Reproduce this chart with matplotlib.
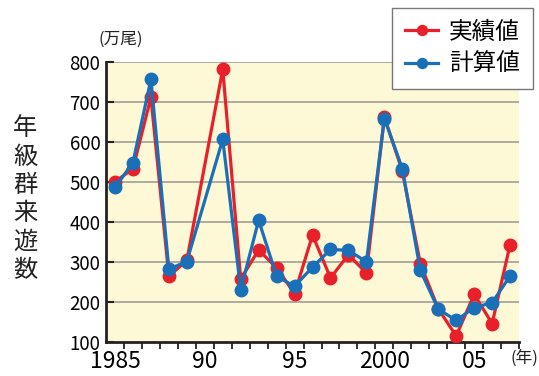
import numpy as np
import matplotlib.pyplot as plt
from matplotlib.ticker import MultipleLocator, FixedLocator

plt.rcParams['font.family'] = ['Noto Sans CJK JP', 'DejaVu Sans']

# 1990 has no value
years = [1985, 1986, 1987, 1988, 1989, 1991, 1992, 1993, 1994, 1995, 1996,
         1997, 1998, 1999, 2000, 2001, 2002, 2003, 2004, 2005, 2006, 2007]
actual = [500, 533, 711, 264, 304, 781, 257, 330, 285, 221, 367,
          260, 318, 272, 662, 527, 296, 183, 115, 219, 146, 343]
calc = [486, 548, 756, 282, 301, 606, 231, 404, 264, 239, 287,
        331, 329, 300, 658, 533, 279, 182, 154, 186, 198, 265]
xlabels = ['1985', '90', '95', '2000', '05']

red = '#e8202a'
blue = '#1a70b8'

fig = plt.figure(figsize=(5.39, 3.76), dpi=100)
ax = fig.add_axes([0.1967, 0.0904, 0.7663, 0.7456])
ax.set_facecolor('#fdf8d5')

ax.set_xlim(1984.5, 2007.5)
ax.set_ylim(100, 800)

for v in range(200, 900, 100):
    ax.axhline(v, color='#a8a49a', lw=1.3, zorder=1)

ax.plot(years, actual, color=red, lw=2.3, marker='o', ms=9, label='実績値', zorder=3)
ax.plot(years, calc, color=blue, lw=2.3, marker='o', ms=9, label='計算値', zorder=4)

ax.yaxis.set_major_locator(MultipleLocator(100))
ax.tick_params(axis='y', direction='in', length=6, width=1.5, labelsize=13.5, pad=4,
               color='#222222')
ax.set_xticks([1985, 1990, 1995, 2000, 2005])
ax.set_xticklabels(xlabels)
ax.xaxis.set_minor_locator(FixedLocator(np.arange(1985.5, 2008, 1.0)))
ax.tick_params(axis='x', which='major', length=0, labelsize=16.5, pad=6)
ax.tick_params(axis='x', which='minor', direction='out', length=5, width=1.3,
               color='#222222')

for s in ['top', 'right']:
    ax.spines[s].set_visible(False)
for s in ['left', 'bottom']:
    ax.spines[s].set_linewidth(2)
    ax.spines[s].set_color('#222222')

fig.text(0.047, 0.47, '年\n級\n群\n来\n遊\n数', fontsize=17.5, ha='center', va='center',
         linespacing=1.12, color='#222222')
fig.text(0.183, 0.872, '(万尾)', fontsize=12, ha='left', va='bottom', color='#222222')
fig.text(0.948, 0.048, '(年)', fontsize=12, ha='left', va='center', color='#222222')

leg = fig.legend(loc='upper right', bbox_to_anchor=(0.988, 0.98), fontsize=17,
                 handlelength=1.4, handletextpad=0.45, markerscale=0.8,
                 fancybox=False, framealpha=1, edgecolor='#777777',
                 borderpad=0.55, labelspacing=0.4, borderaxespad=0)
leg.get_frame().set_linewidth(1.0)

fig.savefig('out.png', dpi=100)
